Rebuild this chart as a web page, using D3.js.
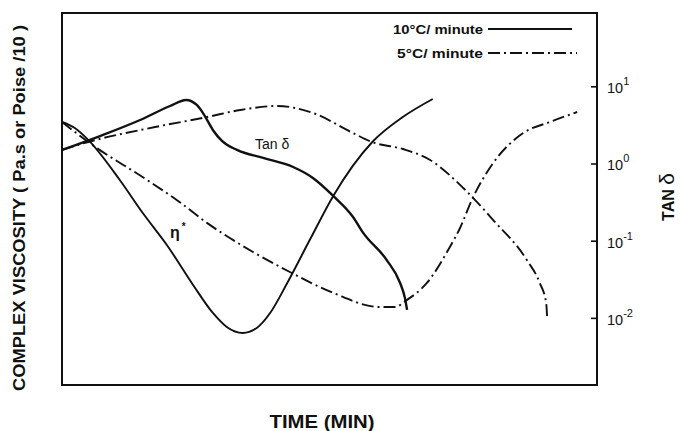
<!DOCTYPE html>
<html><head><meta charset="utf-8">
<script src="https://cdn.jsdelivr.net/npm/d3@7"></script>
<style>
body{margin:0;background:#fff;}
svg{display:block;}
text{font-family:"Liberation Sans",Arial,sans-serif;fill:#111;}
</style></head>
<body>
<svg id="c" width="680" height="431"></svg>
<script>
// time (arbitrary units, 0-100) and values (log scale, right axis)
const tanD10_t = [0,7.1,14.6,20.2,23.2,25.2,26.7,28.2,29.9,32.7,37.6,43.2,46.9,50.7,54.4,56.3,60.7,63.2,64.1,64.5];
const tanD10_v = [1.50,2.27,3.66,5.56,6.65,5.73,4.12,2.72,1.96,1.50,1.18,0.90,0.65,0.38,0.203,0.126,0.056,0.0283,0.0181,0.0127];

const eta10_t = [0,2.4,4.9,10.8,15.1,19.6,24.5,28.2,30.8,33.8,36.4,38.9,42.1,46.4,50.7,58.0,63.7,69.3];
const eta10_v = [3.45,2.88,2.02,0.611,0.228,0.088,0.0267,0.01157,0.00762,0.00637,0.00740,0.01157,0.0283,0.105,0.38,1.90,4.00,6.85];

const tanD5_t = [0,4.9,17.4,27.1,33.3,40.2,46.9,54.4,57.9,63.7,68.8,75.0,80.6,86.9,89.3,90.5,90.7];
const tanD5_v = [1.50,1.90,2.97,4.00,4.93,5.56,4.51,2.48,1.90,1.54,1.11,0.482,0.185,0.056,0.0283,0.0156,0.0094];

const eta5_t = [0,4.9,15.9,21.7,27.1,35.7,42.6,50.7,59.4,62.2,64.5,68.2,72.5,74.4,76.6,80.6,86.2,91.2,96.3];
const eta5_v = [3.45,1.90,0.611,0.327,0.170,0.0714,0.0393,0.0210,0.0138,0.0138,0.0171,0.0283,0.0829,0.146,0.337,1.015,2.48,3.45,4.65];

const tickVals = [10, 1, 0.1, 0.01];
const tickExp = ["1", "0", "-1", "-2"];
const legendLabels = ["10°C/ minute", "5°C/ minute"];

const svg = d3.select("#c");
const L = 62, R = 597, T = 13, B = 385;
const x = d3.scaleLinear().domain([0, 100]).range([L, R]);
const y = d3.scaleLog().domain([Math.pow(10, -2.87), Math.pow(10, 1.95)]).range([B, T]);

// frame
svg.append("path")
  .attr("d", `M${L},${T}H${R}V${B}H${L}Z`)
  .attr("fill", "none").attr("stroke", "#111").attr("stroke-width", 2);

// right axis ticks (pointing inward)
const ax = svg.append("g").attr("transform", `translate(${R},0)`)
  .call(d3.axisLeft(y).tickValues(tickVals).tickSize(6).tickFormat(""));
ax.select(".domain").remove();
ax.selectAll("line").attr("stroke", "#111").attr("stroke-width", 1.6);

// right tick labels 10^n
tickVals.forEach((v, i) => {
  const t = svg.append("text").attr("x", R + 10).attr("y", y(v) + 7)
    .attr("font-size", 14.5);
  t.append("tspan").text("10");
  t.append("tspan").attr("dy", -8).attr("font-size", 11).text(tickExp[i]);
});

const line = d3.line().x(d => x(d[0])).y(d => y(d[1])).curve(d3.curveMonotoneX);
const zip = (a, b) => a.map((v, i) => [v, b[i]]);
const dashDot = "12,4,2,4";

svg.append("path").datum(zip(tanD10_t, tanD10_v)).attr("d", line)
  .attr("fill", "none").attr("stroke", "#111").attr("stroke-width", 2.4);
svg.append("path").datum(zip(eta10_t, eta10_v)).attr("d", line)
  .attr("fill", "none").attr("stroke", "#111").attr("stroke-width", 1.9);
svg.append("path").datum(zip(tanD5_t, tanD5_v)).attr("d", line)
  .attr("fill", "none").attr("stroke", "#111").attr("stroke-width", 1.9).attr("stroke-dasharray", dashDot);
svg.append("path").datum(zip(eta5_t, eta5_v)).attr("d", line)
  .attr("fill", "none").attr("stroke", "#111").attr("stroke-width", 1.9).attr("stroke-dasharray", dashDot);

// curve labels
svg.append("text").attr("x", 255).attr("y", 149).attr("font-size", 14).text("Tan δ");
const et = svg.append("text").attr("x", 170).attr("y", 238).attr("font-size", 16).attr("font-weight", "bold");
et.append("tspan").text("η");
et.append("tspan").attr("dy", -8).attr("dx", 2).attr("font-size", 10).text("*");

// legend
const leg = [{y: 29, dash: null}, {y: 53, dash: dashDot}];
leg.forEach((d, i) => {
  svg.append("text").attr("x", 483).attr("y", d.y + 5).attr("text-anchor", "end")
    .attr("font-size", 13.5).attr("font-weight", "bold")
    .attr("textLength", i === 0 ? 90 : 86).attr("lengthAdjust", "spacingAndGlyphs")
    .text(legendLabels[i]);
  svg.append("line").attr("x1", 488).attr("x2", i === 0 ? 572 : 577)
    .attr("y1", d.y).attr("y2", d.y)
    .attr("stroke", "#111").attr("stroke-width", 1.8)
    .attr("stroke-dasharray", d.dash);
});

// axis titles
svg.append("text").attr("transform", "translate(25,208) rotate(-90)")
  .attr("text-anchor", "middle").attr("font-size", 17).attr("font-weight", "bold")
  .attr("textLength", 366).attr("lengthAdjust", "spacingAndGlyphs")
  .text("COMPLEX VISCOSITY ( Pa.s or Poise /10 )");
svg.append("text").attr("x", 322).attr("y", 428).attr("text-anchor", "middle")
  .attr("font-size", 17.5).attr("font-weight", "bold")
  .attr("textLength", 105).attr("lengthAdjust", "spacingAndGlyphs")
  .text("TIME (MIN)");
const tn = svg.append("text").attr("transform", "translate(674,197) rotate(-90)")
  .attr("text-anchor", "middle").attr("font-size", 16).attr("font-weight", "bold");
tn.append("tspan").text("TAN ");
tn.append("tspan").attr("font-size", 21).attr("font-weight", "normal").text("δ");
</script>
</body></html>
